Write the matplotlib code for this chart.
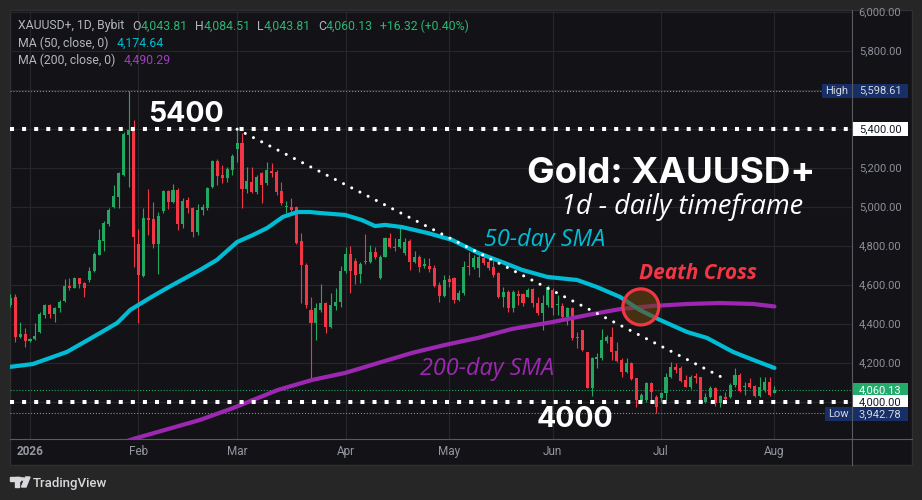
import matplotlib.pyplot as plt
from matplotlib.patches import Rectangle, Ellipse, Polygon, Circle
from matplotlib.lines import Line2D
import numpy as np

plt.rcParams['font.family'] = ['Roboto', 'DejaVu Sans']

# XAUUSD+ daily candles, bar 0 = 26 Dec 2025 (weekday bars)
opens = [4498, 4539, 4335, 4349, 4315, 4322, 4361, 4446, 4498, 4453,
         4481, 4520, 4596, 4587, 4635, 4611, 4626, 4674, 4754, 4828,
         4913, 5002, 5054, 5165, 5370, 5396, 4809, 4648, 4944, 4939,
         4813, 4980, 5083, 5028, 5086, 4915, 5037, 4994, 4874, 4985,
         4994, 5105, 5237, 5165, 5151, 5191, 5298, 5331, 5093, 5131,
         5079, 5177, 5122, 5187, 5179, 5083, 5000, 5003, 5003, 4826,
         4703, 4472, 4407, 4472, 4510, 4383, 4494, 4515, 4672, 4760,
         4725, 4657, 4724, 4720, 4770, 4635, 4746, 4843, 4797, 4794,
         4766, 4826, 4720, 4746, 4696, 4698, 4686, 4600, 4544, 4631,
         4638, 4523, 4558, 4700, 4694, 4686, 4741, 4720, 4694, 4660,
         4541, 4566, 4481, 4553, 4553, 4541, 4578, 4510, 4459, 4498,
         4575, 4496, 4493, 4438, 4481, 4335, 4370, 4259, 4074, 4221,
         4228, 4313, 4335, 4264, 4216, 4156, 4199, 4122, 4007, 4010,
         4096, 4027, 4019, 4045, 4130, 4178, 4173, 4113, 4079, 4134,
         4127, 4002, 4027, 4070, 3993, 4027, 4027, 4087, 4139, 4079,
         4096, 4082, 4031, 4062, 4104, 4043.81]
highs = [4553, 4553, 4409, 4378, 4327, 4404, 4460, 4505, 4501, 4489,
         4523, 4631, 4635, 4643, 4638, 4617, 4691, 4772, 4886, 4929,
         4994, 5114, 5179, 5387, 5598.61, 5447, 4888, 4994, 5091, 5025,
         4977, 5088, 5088, 5119, 5097, 5049, 5054, 5003, 5014, 5016,
         5103, 5242, 5247, 5216, 5208, 5271, 5410, 5379, 5208, 5208,
         5165, 5182, 5233, 5225, 5191, 5131, 5033, 5045, 5006, 4866,
         4712, 4541, 4506, 4606, 4515, 4558, 4583, 4698, 4797, 4801,
         4737, 4720, 4862, 4806, 4794, 4755, 4849, 4869, 4840, 4891,
         4840, 4835, 4777, 4754, 4737, 4737, 4703, 4617, 4652, 4652,
         4643, 4575, 4724, 4771, 4754, 4754, 4760, 4732, 4732, 4669,
         4592, 4575, 4575, 4575, 4560, 4583, 4583, 4541, 4549, 4601,
         4583, 4549, 4507, 4489, 4489, 4361, 4370, 4259, 4233, 4250,
         4373, 4344, 4387, 4310, 4224, 4224, 4207, 4122, 4048, 4104,
         4104, 4036, 4053, 4147, 4207, 4199, 4185, 4139, 4139, 4147,
         4130, 4045, 4082, 4075, 4036, 4053, 4096, 4173, 4147, 4104,
         4122, 4087, 4127, 4127, 4130, 4084.51]
lows = [4489, 4310, 4327, 4284, 4310, 4318, 4352, 4433, 4429, 4412,
        4460, 4515, 4575, 4583, 4587, 4539, 4617, 4669, 4754, 4777,
        4905, 4994, 4994, 5162, 5105, 4694, 4407, 4643, 4857, 4789,
        4655, 4968, 4991, 5020, 4883, 4891, 4968, 4848, 4857, 4960,
        4985, 5097, 5114, 5122, 5131, 5165, 5233, 4997, 5071, 5071,
        5067, 5020, 5114, 5156, 5062, 5011, 4972, 4968, 4811, 4506,
        4481, 4113, 4318, 4464, 4356, 4378, 4472, 4489, 4660, 4561,
        4606, 4609, 4708, 4712, 4732, 4630, 4742, 4789, 4777, 4789,
        4754, 4677, 4715, 4669, 4686, 4669, 4592, 4515, 4541, 4592,
        4506, 4520, 4549, 4652, 4681, 4643, 4703, 4677, 4643, 4532,
        4489, 4463, 4463, 4498, 4495, 4537, 4489, 4447, 4370, 4489,
        4447, 4447, 4430, 4395, 4318, 4276, 4264, 4070, 4031, 4176,
        4216, 4301, 4216, 4207, 4130, 4147, 4113, 3973, 3993, 4002,
        3993, 3942.78, 4002, 4010, 4122, 4147, 4104, 4075, 4065, 4096,
        3997, 3993, 4019, 3980, 3976, 4002, 4019, 4079, 4053, 4036,
        4070, 4027, 4027, 4053, 4031, 4043.81]
closes = [4532, 4335, 4349, 4315, 4322, 4340, 4450, 4498, 4453, 4481,
          4515, 4594, 4587, 4635, 4606, 4583, 4672, 4760, 4831, 4917,
          4985, 5057, 5175, 5374, 5396, 4848, 4652, 4943, 4936, 4813,
          4955, 5083, 5028, 5088, 4915, 5032, 4994, 4874, 4985, 5002,
          5098, 5237, 5162, 5151, 5196, 5263, 5331, 5093, 5134, 5079,
          5156, 5114, 5191, 5174, 5079, 5020, 5006, 4985, 4814, 4703,
          4498, 4407, 4481, 4506, 4383, 4498, 4515, 4672, 4760, 4674,
          4652, 4708, 4718, 4770, 4746, 4746, 4843, 4794, 4789, 4835,
          4823, 4720, 4746, 4694, 4708, 4681, 4595, 4544, 4626, 4617,
          4523, 4558, 4694, 4691, 4737, 4742, 4715, 4689, 4652, 4541,
          4566, 4481, 4566, 4546, 4506, 4575, 4510, 4459, 4507, 4592,
          4481, 4501, 4438, 4481, 4327, 4330, 4267, 4074, 4224, 4229,
          4318, 4335, 4258, 4212, 4156, 4202, 4116, 4010, 4036, 4096,
          4053, 3976, 4045, 4130, 4178, 4164, 4110, 4079, 4130, 4122,
          4002, 4027, 4070, 3993, 4031, 4014, 4087, 4139, 4058, 4084,
          4079, 4031, 4075, 4104, 4036, 4060.13]

# moving averages (bar index, value)
ma50_x = [-0.1, 4.6, 11.5, 18.2, 21.7, 24.3, 28.3, 31.8, 38.5, 41.9, 46, 49.2,
          52.1, 55.3, 58.2, 60.8, 62.8, 67.9, 71.3, 74, 76, 79.4, 84.7, 89.6,
          94.9, 100.3, 103.8, 108.9, 115, 119, 123.7, 127.7, 131.8, 137.3,
          141.3, 146.6, 150.7, 155]
ma50_y = [4180, 4195, 4257, 4354, 4406, 4472, 4534, 4585, 4678, 4729, 4821,
          4857, 4893, 4950, 4975, 4975, 4970, 4960, 4934, 4903, 4909, 4898,
          4867, 4832, 4765, 4713, 4678, 4642, 4626, 4590, 4539, 4472, 4421,
          4359, 4329, 4257, 4216, 4174.64]
ma200_x = [20.2, 24.9, 38.5, 45.2, 49.2, 54.3, 61.2, 67.9, 74.6, 81.5, 88.2,
           94.9, 101.8, 110.1, 117.2, 123.7, 130.4, 137.3, 144, 150.7, 155]
ma200_y = [3769, 3810, 3908, 3969, 4010, 4062, 4113, 4149, 4200, 4252, 4293,
           4329, 4375, 4411, 4447, 4477, 4493, 4503, 4508, 4503, 4490.29]

# drawn trend line from the March high
trend_x = [46, 145.4]
trend_y = [5400, 4113]
cross_x, cross_y = 127.9, 4488

month_idx = [4, 26, 46, 68, 89, 110, 132, 155]
month_lbl = ['2026', 'Feb', 'Mar', 'Apr', 'May', 'Jun', 'Jul', 'Aug']
price_ticks = [4200, 4400, 4600, 4800, 5000, 5200, 5400, 5600, 5800, 6000]

GREEN = '#22a861'
RED = '#f23645'
CYAN = '#00bcd4'
PURPLE = '#9c27b0'
GREY = '#b4b6be'
PANEL = '#131317'
BOLD_FONT = ['Inter', 'DejaVu Sans']
ITAL_FONT = ['Open Sans', 'DejaVu Sans']

W, H = 922, 500
fig = plt.figure(figsize=(W / 100, H / 100), dpi=100)
fig.patch.set_facecolor('#262626')


def fx(px):
    return px / W


def fy(py):
    return 1 - py / H


fig.patches.append(Rectangle((fx(10), fy(465)), fx(912) - fx(10), fy(10) - fy(465),
                             transform=fig.transFigure, facecolor=PANEL,
                             edgecolor='#303030', lw=1, zorder=-5))

ax = fig.add_axes([fx(10), fy(439), fx(852) - fx(10), fy(10) - fy(439)])
ax.set_facecolor('none')
ax.set_xlim(-0.06, 170.73)
ax.set_ylim(3810, 6012)
for s in ax.spines.values():
    s.set_visible(False)
ax.set_xticks([])
ax.set_yticks([])

# grid
for p in price_ticks + [4000]:
    ax.axhline(p, color='#26262b', lw=0.8, zorder=0)
for m in month_idx:
    ax.axvline(m, color='#26262b', lw=0.8, zorder=0)

# candles
o = np.array(opens); h = np.array(highs); l = np.array(lows); c = np.array(closes)
idx = np.arange(len(c))
cols = np.where(c >= o, GREEN, RED)
ax.vlines(idx, l, h, colors=cols, lw=0.8, zorder=3)
body_lo = np.minimum(o, c)
body_h = np.maximum(np.abs(c - o), 5)
ax.bar(idx, body_h, bottom=body_lo, width=0.62, color=cols, lw=0, zorder=4)

# moving averages
ax.plot(ma200_x, ma200_y, color=PURPLE, lw=3.0, solid_capstyle='round', zorder=5)
ax.plot(ma50_x, ma50_y, color=CYAN, lw=3.0, solid_capstyle='round', zorder=5)

# thin price lines
ax.axhline(5598.61, color='#8a8d96', lw=0.8, ls=':', zorder=2)
ax.axhline(3942.78, color='#8a8d96', lw=0.8, ls=':', zorder=2)
ax.axhline(4060.13, color=GREEN, lw=0.8, ls=':', zorder=2)

# support / resistance levels and trend line
for lvl in (5400, 4000):
    ax.axhline(lvl, color='white', lw=2.9, dashes=(1, 2), dash_capstyle='butt', zorder=6)
ax.plot(trend_x, trend_y, color='white', lw=2.2, dashes=(0.01, 3),
        dash_capstyle='round', zorder=6)

# death cross marker
ax.add_patch(Ellipse((cross_x, cross_y), 7.3, 185, facecolor=(0.42, 0.27, 0.05, 0.6),
                     edgecolor=RED, lw=2.3, zorder=7))

# annotations
ax.text(28.0, 5436, '5400', color='white', fontsize=20.5, fontweight='bold',
        family=BOLD_FONT, zorder=8)
ax.text(106.8, 3873, '4000', color='white', fontsize=20.5, fontweight='bold',
        family=BOLD_FONT, zorder=8)
ax.text(163.2, 5124, 'Gold: XAUUSD+', color='white', fontsize=26.5, fontweight='bold',
        family=BOLD_FONT, ha='right', zorder=8)
ax.text(160.8, 4965, '1d - daily timeframe', color='white', fontsize=19.5,
        style='italic', family=ITAL_FONT, ha='right', zorder=8)
ax.text(96.0, 4802, '50-day SMA', color=CYAN, fontsize=16.8, style='italic',
        family=ITAL_FONT, zorder=8)
ax.text(83.1, 4139, '200-day SMA', color=PURPLE, fontsize=16.8, style='italic',
        family=ITAL_FONT, zorder=8)
ax.text(127.5, 4630, 'Death Cross', color=RED, fontsize=15, fontweight='bold',
        style='italic', family=ITAL_FONT, zorder=8)

# axis separators
fig.add_artist(Line2D([fx(852), fx(852)], [fy(10), fy(465)], color='#5a5b61', lw=0.8))
fig.add_artist(Line2D([fx(10), fx(912)], [fy(439), fy(439)], color='#5a5b61', lw=0.8))

# right price scale
yt = ax.get_yaxis_transform()
for p in price_ticks:
    ax.text(1.0333, p, f'{p:,.2f}', transform=yt, color='#8d9099', fontsize=8,
            ha='center', va='center', clip_on=False)


def tag(price, text, fc, tc, left=None, name=None):
    x0 = 1.0012 if left is None else left
    ax.add_patch(Rectangle((x0, price - 36), 1.0665 - x0, 72, transform=yt,
                           facecolor=fc, edgecolor='none', clip_on=False, zorder=9))
    ax.text(1.0333, price, text, transform=yt, color=tc, fontsize=8,
            ha='center', va='center', clip_on=False, zorder=10)
    if name:
        ax.text((x0 + 1.0) / 2, price, name, transform=yt, color=tc, fontsize=8,
                ha='center', va='center', clip_on=False, zorder=10)


tag(5598.61, '5,598.61', '#172f66', '#d6d8de', left=0.9644, name='High')
tag(5400, '5,400.00', 'white', '#131722')
tag(4060.13, '4,060.13', '#22ab6a', 'white')
tag(4000, '4,000.00', 'white', '#131722')
tag(3942.78 - 6, '3,942.78', '#172f66', '#d6d8de', left=0.9676, name='Low')

# time scale
xt = ax.get_xaxis_transform()
for m, lab in zip(month_idx, month_lbl):
    ax.text(m, -0.0303, lab, transform=xt, color='#9598a1', fontsize=8.5,
            fontweight='bold' if lab == '2026' else 'normal',
            ha='center', va='center', clip_on=False)

# legend rows
rend = fig.canvas.get_renderer()


def text_row(x_px, y_px, parts, size=8.8):
    x = x_px
    for s, col, gap in parts:
        x += gap
        t = fig.text(fx(x), fy(y_px), s, color=col, fontsize=size, va='center', ha='left')
        x += t.get_window_extent(rend).width


LG = '#2bb673'
text_row(18, 26, [('XAUUSD+, 1D, Bybit', GREY, 0), ('O', GREY, 8), ('4,043.81', LG, 0),
                  ('H', GREY, 7), ('4,084.51', LG, 0), ('L', GREY, 7), ('4,043.81', LG, 0),
                  ('C', GREY, 7), ('4,060.13', LG, 0), ('+16.32 (+0.40%)', LG, 7)])
text_row(18, 43, [('MA (50, close, 0)', GREY, 0), ('4,174.64', '#00bcd4', 8)])
text_row(18, 60, [('MA (200, close, 0)', GREY, 0), ('4,490.29', '#a23cc0', 8)])

# TradingView logo
logo = '#d8d9dd'
fig.patches.append(Rectangle((fx(10), fy(481)), fx(9.5), fy(477) - fy(481),
                             transform=fig.transFigure, color=logo))
fig.patches.append(Rectangle((fx(14.5), fy(487)), fx(4.5), fy(477) - fy(487),
                             transform=fig.transFigure, color=logo))
fig.patches.append(Circle((fx(22.3), fy(479)), fx(2.1), transform=fig.transFigure, color=logo))
fig.patches.append(Polygon([(fx(25.5), fy(477)), (fx(30), fy(477)), (fx(26), fy(487)),
                            (fx(21.5), fy(487))], closed=True, transform=fig.transFigure,
                           color=logo))
fig.text(fx(33), fy(483), 'TradingView', color=logo, fontsize=9.5, fontweight='medium',
         va='center', ha='left')

fig.savefig('out.png', dpi=100, facecolor=fig.get_facecolor())
